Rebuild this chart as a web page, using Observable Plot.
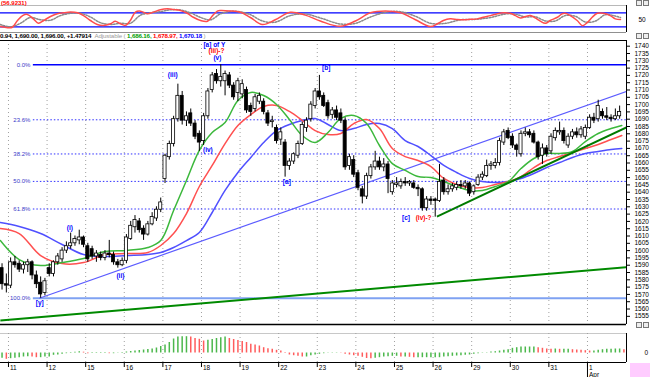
<!DOCTYPE html>
<html><head><meta charset="utf-8">
<script src="https://cdn.jsdelivr.net/npm/d3@7"></script>
<script src="https://cdn.jsdelivr.net/npm/@observablehq/plot@0.6"></script>
<style>
body{margin:0;background:#fff;}
#wrap{position:relative;width:650px;height:377px;overflow:hidden;font-family:"Liberation Sans",Arial,sans-serif;background:#fff;}
.pane{position:absolute;left:0;}
.ico{position:absolute;width:4px;height:4px;border:1px solid #777;background:#eee;}
</style></head><body><div id="wrap"></div>
<script>
// ---------- DATA ----------
const dayLabels = ["11","12","15","16","17","18","19","22","23","24","25","26","29","30","31","1"];
const monthLabel = "Apr";
const monthDay = 15;          // index of the day that starts the new month
const barsPerDay = 9;
const firstBar = -2;
const open  = [1588,1577,1576,1592,1591,1587,1590,1592,1583,1578,1571,1588,1584,1592,1594,1600,1603,1605,1607,1609,1603,1601,1596,1597,1595,1598,1597,1592,1590,1593,1608,1616,1620,1615,1611,1618,1622,1628,1649,1664,1673,1690,1706,1689,1694,1687,1680,1675,1692,1710,1721,1716,1716,1720,1713,1708,1707,1710,1699,1697,1702,1702,1694,1688,1684,1676,1674,1658,1661,1665,1673,1684,1690,1699,1709,1706,1701,1693,1696,1694,1689,1658,1662,1653,1642,1637,1651,1657,1661,1657,1659,1640,1645,1644,1647,1646,1646,1643,1642,1629,1635,1635,1634,1648,1640,1642,1643,1645,1644,1646,1640,1645,1650,1651,1658,1658,1660,1674,1682,1678,1672,1666,1680,1681,1680,1674,1665,1670,1668,1677,1681,1682,1672,1678,1681,1679,1678,1684,1691,1690,1695,1692,1691,1690,1692];
const high  = [1591,1584,1595,1596,1593,1592,1594,1593,1586,1582,1581,1591,1593,1598,1602,1606,1612,1610,1614,1610,1605,1603,1600,1599,1600,1607,1599,1594,1595,1611,1620,1624,1622,1617,1620,1626,1630,1636,1666,1675,1692,1714,1709,1695,1697,1689,1682,1694,1711,1722,1724,1727.3,1723,1722,1715,1718,1717,1712,1701,1707,1708,1704,1696,1692,1686,1684,1676,1663,1667,1675,1688,1691,1702,1711,1720,1708,1703,1698,1699,1697,1691,1666,1665,1655,1644,1653,1659,1668,1664,1663,1661,1648,1650,1649,1650,1648,1648,1645,1643,1637,1637,1636,1659,1650,1645,1646,1647,1648,1648,1647,1645,1652,1654,1662,1661,1663,1677,1683,1684,1680,1673,1682,1684,1683,1682,1675,1673,1672,1680,1684,1688,1684,1680,1683,1684,1685,1686,1693,1694,1703,1697,1698,1693,1697,1699];
const low   = [1573,1571,1574,1588,1585,1584,1585,1580,1574,1567.4,1569,1582,1582,1590,1592,1598,1601,1603,1604,1602,1592,1594,1592,1593,1593,1595,1590,1588,1589,1591,1607,1612,1612,1607,1610,1617,1620,1626,1646,1662,1671,1688,1686,1685,1685,1676,1668,1672,1690,1708,1714,1712,1706,1711,1703,1702,1704,1694,1692,1695,1700,1693,1685,1684,1673,1672,1650.3,1655,1659,1663,1672,1681,1688,1697,1703,1698,1690,1690,1689,1687,1655,1655,1650,1641,1632,1635,1649,1655,1655,1654,1639,1638,1643,1642,1644,1644,1642,1637,1627,1627,1631,1622.9,1633,1638,1638,1640,1641,1642,1642,1637,1638,1644,1648,1650,1655,1656,1658,1672,1676,1670,1664,1664,1678,1677,1673,1662,1659,1664,1666,1675,1679,1673,1670,1676,1677,1677,1676,1683,1687,1688,1690,1689,1688,1689,1690];
const close = [1577,1576,1592,1590,1587,1590,1592,1583,1577,1570,1579,1584,1592,1596,1600,1603,1605,1608,1609,1604,1594,1596,1598,1595,1598,1597,1592,1590,1593,1609,1617,1621,1614,1611,1618,1623,1628,1633,1665,1673,1690,1706,1689,1692,1687,1678,1674,1692,1709,1720,1716,1719,1721,1713,1705,1716,1714,1696,1695,1705,1706,1695,1687,1689,1675,1681,1658,1661,1666,1673,1686,1689,1700,1709,1705,1699,1692,1696,1691,1689,1657,1664,1652,1643,1637,1651,1657,1661,1657,1659,1649,1646,1646,1647,1646,1647,1643,1642,1629,1635,1634,1634,1647,1640,1642,1644,1645,1644,1646,1639,1644,1650,1652,1658,1659,1660,1675,1681,1677,1672,1669,1680,1681,1679,1674,1664,1670,1666,1678,1682,1682,1675,1678,1681,1679,1683,1684,1691,1689,1699,1692,1691,1690,1692,1695];

const maBar   = [-2.4,2,7,12,17,22,27,32,35,38,41,44,47,50,53,56,59,62,65,68,71,74,77,80,83,86,89,92,95,98,101,104,107,110,113,116,119,122,125,128,131,134,137,140,142.5];
const maGreen = [1606.9,1593.9,1589.8,1591.8,1594.6,1599.4,1600.1,1602.1,1606.9,1627.5,1648.0,1668.6,1680.9,1687.7,1702.8,1708.3,1706.2,1700.1,1689.8,1678.8,1674.0,1680.9,1690.5,1692.5,1687.0,1672.0,1659.6,1654.9,1650.7,1650.1,1647.3,1643.9,1641.2,1641.2,1643.9,1647.3,1656.2,1663.1,1666.5,1666.5,1667.9,1674.7,1680.2,1683.6,1685.7];
const maRed   = [1615.1,1611.7,1596.6,1591.1,1591.8,1597.3,1598.0,1598.7,1603.5,1611.7,1625.4,1643.9,1658.3,1673.3,1685.7,1693.2,1698.7,1699.4,1695.3,1689.1,1682.2,1679.5,1680.2,1687.0,1689.8,1683.6,1669.9,1664.4,1661.7,1657.6,1649.4,1645.3,1643.2,1643.2,1645.3,1647.3,1650.7,1656.9,1661.7,1664.4,1667.2,1669.9,1672.7,1676.1,1678.8];
const maBlue  = [1619.2,1616.5,1611.7,1604.2,1597.3,1595.9,1596.6,1597.3,1598.7,1602.1,1606.9,1612.4,1626.1,1641.2,1653.5,1663.8,1674.0,1682.2,1686.4,1689.1,1690.5,1686.4,1682.2,1683.6,1686.4,1687.0,1683.6,1675.4,1671.3,1665.1,1658.3,1653.5,1649.4,1647.3,1646.6,1647.3,1649.4,1652.8,1656.9,1660.3,1663.8,1666.5,1667.9,1669.2,1669.9];

const fibLevels = [1727.3,1689.6,1666.2,1647.4,1628.5,1567.4];
const fibLabels = ["0.0%","23.6%","38.2%","50.0%","61.8%","100.0%"];
const fibStartBar = 5.3;

const trendBlueBar = [6.7,143.6],  trendBluePrice = [1567.4,1709.0];
const trendGreenBar = [99.4,143.6], trendGreenPrice = [1623.3,1684.4];
const baseGreenBar = [-2.4,143.6], baseGreenPrice = [1552.1,1588.7];

const waveText  = ["[a] of Y","(iii)-?","(v)","(iii)","(iv)","[b]","[a]","[c]","(iv)-?","(i)","(ii)","[y]"];
const waveBar   = [47.5,48.0,48.2,37.8,46.0,73.6,64.4,92.2,96.3,13.8,25.6,6.8];
const wavePrice = [1740.8,1736.7,1731.9,1720.3,1668.9,1725.1,1647.0,1622.3,1622.3,1615.5,1582.9,1564.4];
const waveColor = ["#0000ff","#ff0000","#0000ff","#0000ff","#0000ff","#0000ff","#0000ff","#0000ff","#ff0000","#0000ff","#0000ff","#0000ff"];

const oscKBar = [-2.4,-0.7,0.4,1.6,2.8,3.9,5.3,6.5,7.7,9.3,10.9,12.3,14.0,15.6,17.0,18.6,20.2,21.6,23.3,24.4,25.6,26.8,27.9,29.1,30.3,31.9,33.3,34.9,36.6,38.0,39.6,41.2,42.6,44.3,45.9,47.1,48.2,48.9,51.2,53.6,55.9,58.7,61.7,65.2,68.7,72.2,76.9,80.4,83.9,87.4,90.9,94.4,97.9,99.5,100.9,102.5,104.2,105.6,107.2,108.8,110.2,111.9,113.5,114.9,116.5,117.7,118.9,120.0,121.2,122.3,123.5,124.7,125.8,127.5,128.6,129.3,130.5,132.1,133.3,134.5,135.6,136.8,138.2,139.8,141.0,142.2];
const oscK    = [21,16,18,47,68,73,54,35,47,64,76,80,83,80,68,47,30,26,33,44,33,26,47,83,87,76,83,93,97,94,90,78,61,47,44,68,87,90,88,82,60,30,50,82,70,45,22,45,80,88,80,50,21,33,47,54,51,50,52,54,61,68,76,80,78,68,58,64,68,58,44,35,47,61,76,78,68,47,25,39,61,78,78,68,54,51];
const oscDBar = [-2.4,0.0,2.3,4.6,7.0,9.3,11.6,14.0,16.3,18.6,20.9,23.3,25.6,27.9,30.3,32.6,34.9,37.3,39.6,41.9,44.3,46.6,48.9,51.2,53.6,55.9,58.7,61.7,65.2,68.7,72.2,76.9,80.4,83.9,87.4,90.9,94.4,97.9,101.4,104.9,108.4,111.9,115.4,117.7,120.0,122.3,124.7,127.0,129.3,131.7,134.1,136.4,138.7,141.0,142.2];
const oscD    = [30,20,35,60,50,48,68,78,78,62,38,30,35,35,70,80,85,93,92,80,60,50,75,86,84,72,45,40,68,75,58,32,35,62,82,85,65,35,35,50,52,60,75,74,62,63,45,45,68,65,40,45,72,66,60];
const oscLevels = [20,80];
const oscMid = 50;

const histVals = [-5.3,-6.3,-5.7,-5.3,-4.7,-4.0,-3.7,-4.0,-4.7,-4.7,-4.0,-4.0,-2.3,-2.0,-1.3,-0.7,0.5,0.7,1.3,0.8,-0.7,-0.5,-0.5,-0.5,-0.5,-0.7,-0.7,-0.3,0.5,1.0,1.5,2.0,2.5,3.0,3.5,4.0,5.0,6.5,8.0,10.5,14,16,16.3,16.3,16,14.5,13.7,12,12.7,13.5,14.5,15.2,16,14.5,13.5,12.5,11.5,10.5,8.7,8,7,5.3,4.3,3.7,2.7,2,-0.5,-2,-2.7,-3.3,-4,-4,-2.7,-2,-1.3,-0.7,0.3,0.3,0.3,-0.3,-1.3,-2,-2.7,-3.3,-4.3,-5.5,-5.7,-5.3,-4.7,-4,-3.7,-3.3,-3.3,-4,-4,-4.3,-4.7,-4.7,-4.7,-4.7,-4.7,-4.7,-4.7,-4,-3.7,-3.3,-3,-2.7,-2.3,-2,-1.3,-0.7,-0.3,0.3,1,1.3,2,2.7,3.3,4.7,5.3,6,6,6,6,5.3,4.7,4,3.7,4,3.7,3.7,3.7,3.3,3,2.7,2.3,2,2,2.7,3.3,3.7,3.7,4,4,3.3];

const priceTicks = d3.range(1555, 1741, 5);

// ---------- BUILD ----------
const xDomain = [-2.36, 143.6];
const xMax = xDomain[1];
const font = "'Liberation Sans', Arial, sans-serif";
const base = {width: 650, marginLeft: 0, marginRight: 24,
  style: {fontFamily: font, fontSize: "6.5px", background: "transparent", overflow: "visible", color: "#000"},
  color: {type: "identity"}};
const dayStarts = dayLabels.map((_, k) => k * barsPerDay - 0.5);

const bars = open.map((o, k) => ({i: firstBar + k, o, h: high[k], l: low[k], c: close[k]}));
const ma = (vals) => vals.map((p, k) => ({i: maBar[k], p}));
const fibData = fibLevels.map((p, k) => ({p, label: fibLabels[k], x1: fibStartBar, x2: xMax}));
const waves = waveText.map((t, k) => ({t, i: waveBar[k], p: wavePrice[k], col: waveColor[k]}));
const kData = oscK.map((v, k) => ({i: oscKBar[k], v}));
const dData = oscD.map((v, k) => ({i: oscDBar[k], v}));
const hist = histVals.map((v, k) => ({i: firstBar + k, v, col: (k === 0 || v >= histVals[k-1]) ? "#4cb84c" : "#ff5c5c"}));
const seg = (b, p) => [{i1: b[0], p1: p[0], i2: b[1], p2: p[1]}];

const wrap = document.getElementById("wrap");
function place(svg, top) { const d = document.createElement("div"); d.className = "pane"; d.style.top = top + "px"; d.appendChild(svg); wrap.appendChild(d); }

// Top oscillator pane
const yA = [-4.4, 111.3];
const plotA = Plot.plot({...base, height: 33, marginTop: 5, marginBottom: 1,
  x: {domain: xDomain, axis: null}, y: {domain: yA, axis: null},
  marks: [
    Plot.ruleY([yA[1]], {stroke: "#b8b8b8"}),
    Plot.ruleY([yA[0]], {stroke: "#909090"}),
    Plot.ruleY(oscLevels, {stroke: "#0000ff", strokeWidth: 1.2}),
    Plot.line(dData, {x: "i", y: "v", stroke: "#8a8a8a", strokeDasharray: "1.5,1.5", curve: "catmull-rom", clip: true}),
    Plot.line(kData, {x: "i", y: "v", stroke: "#ff4d4d", curve: "catmull-rom", clip: true}),
    Plot.ruleX([xMax], {stroke: "#000"}),
    Plot.text([oscMid], {x: xMax, y: d => d, text: d => String(d), dx: 12, textAnchor: "start", fill: "#000"})
  ]});
place(plotA, 0);

// Main price pane
const yB = [1549.4, 1743.9];
const plotB = Plot.plot({...base, height: 286, marginTop: 1, marginBottom: 1,
  x: {domain: xDomain, axis: null},
  y: {domain: yB, axis: "right", ticks: priceTicks, tickSize: 3, tickPadding: 5, tickFormat: d => String(d), label: null},
  marks: [
    Plot.ruleX(dayStarts, {stroke: "#a0a0a0", strokeDasharray: "1,3"}),
    Plot.ruleY(fibData.slice(0, 1), {y: "p", x1: "x1", x2: "x2", stroke: "#0000ff", strokeWidth: 1.3}),
    Plot.ruleY(fibData.slice(1, 5), {y: "p", x1: "x1", x2: "x2", stroke: "#2f2fff", strokeDasharray: "1.5,2"}),
    Plot.ruleY(fibData.slice(5), {y: "p", x1: "x1", x2: "x2", stroke: "#7fa2f2", strokeWidth: 2}),
    Plot.text(fibData, {x: "x1", y: "p", text: "label", textAnchor: "end", dx: -3, fill: "#3a3ac8", fontSize: 6}),
    Plot.link(seg(baseGreenBar, baseGreenPrice), {x1: "i1", y1: "p1", x2: "i2", y2: "p2", stroke: "#008a00", strokeWidth: 2, clip: true}),
    Plot.link(seg(trendBlueBar, trendBluePrice), {x1: "i1", y1: "p1", x2: "i2", y2: "p2", stroke: "#5c5cff", strokeWidth: 1.2, clip: true}),
    Plot.line(ma(maBlue), {x: "i", y: "p", stroke: "#5050ff", curve: "catmull-rom", clip: true}),
    Plot.line(ma(maRed), {x: "i", y: "p", stroke: "#ff5050", curve: "catmull-rom", clip: true}),
    Plot.line(ma(maGreen), {x: "i", y: "p", stroke: "#3cb83c", curve: "catmull-rom", clip: true}),
    Plot.ruleX(bars, {x: "i", y1: "l", y2: "h", stroke: "#000", clip: true}),
    Plot.rect(bars, {x1: d => d.i - 0.36, x2: d => d.i + 0.36, y1: d => Math.min(d.o, d.c), y2: d => Math.max(d.o, d.c),
      fill: d => d.c >= d.o ? "#ffffff" : "#000000", stroke: "#000", strokeWidth: 0.8, clip: true}),
    Plot.link(seg(trendGreenBar, trendGreenPrice), {x1: "i1", y1: "p1", x2: "i2", y2: "p2", stroke: "#007a00", strokeWidth: 2, clip: true}),
    Plot.text(waves, {x: "i", y: "p", text: "t", fill: "col", fontSize: 6.5, fontWeight: "bold"}),
    Plot.ruleY([yB[1]], {stroke: "#000"}),
    Plot.ruleY([yB[0]], {stroke: "#000", strokeWidth: 1.5}),
    Plot.ruleX([xMax], {stroke: "#000"})
  ]});
place(plotB, 39);

// Bottom histogram pane + time axis
const yC = [-9.5, 19.5];
const plotC = Plot.plot({...base, height: 52, marginTop: 8, marginBottom: 15,
  x: {domain: xDomain, axis: null}, y: {domain: yC, axis: null},
  marks: [
    Plot.ruleY([yC[1]], {stroke: "#c8c8c8"}),
    Plot.ruleX(dayStarts, {stroke: "#a0a0a0", strokeDasharray: "1,3"}),
    Plot.ruleX(hist, {x: "i", y1: 0, y2: "v", stroke: "col", strokeWidth: 1.5, clip: true}),
    Plot.ruleY([yC[0]], {stroke: "#000"}),
    Plot.ruleX(bars, {x: "i", y1: yC[0], y2: yC[0], insetBottom: -2.5, stroke: "#000", clip: true}),
    Plot.ruleX(dayStarts, {y1: yC[0], y2: yC[0], insetBottom: -5, stroke: "#000"}),
    Plot.ruleX([dayStarts[monthDay]], {y1: yC[0], y2: yC[0], insetBottom: -15, stroke: "#000"}),
    Plot.text(dayLabels, {x: (d, k) => dayStarts[k], y: yC[0], dy: 5, dx: 1.5, textAnchor: "start", fill: "#000"}),
    Plot.text([monthLabel], {x: dayStarts[monthDay], y: yC[0], dy: 12, dx: 1.5, textAnchor: "start", fill: "#000"}),
    Plot.ruleX([xMax], {stroke: "#000"}),
    Plot.text(["0"], {x: xMax, y: 0, dx: 18, textAnchor: "start", fill: "#000"})
  ]});
place(plotC, 325);

// Header line and decorations
const hdr = document.createElement("div");
hdr.style.cssText = "position:absolute;top:32px;left:0;white-space:nowrap;font:bold 6.2px " + font + ";letter-spacing:-0.15px;line-height:7px;";
hdr.innerHTML = '<span style="color:#000">0.94, 1,690.00, 1,696.00, +1.47914</span>' +
  '<span style="color:#9a9a9a;font-weight:normal"> &nbsp;Adjustable ( </span>' +
  '<span style="color:#009c00">1,686.16, </span><span style="color:#ff0000">1,678.97, </span>' +
  '<span style="color:#0000ff">1,670.18</span><span style="color:#9a9a9a;font-weight:normal"> )</span>';
wrap.appendChild(hdr);
const ttl = document.createElement("div");
ttl.style.cssText = "position:absolute;top:0;left:1px;white-space:nowrap;font:bold 6px " + font + ";line-height:6px;color:#ff0000;";
ttl.textContent = "(56.9231)";
wrap.appendChild(ttl);
[[636,0],[643,0],[636,33],[643,33],[636,322],[643,322]].forEach(([l,t]) => {
  const b = document.createElement("div"); b.className = "ico"; b.style.left = l + "px"; b.style.top = t + "px"; wrap.appendChild(b);
});
const pink = document.createElement("div");
pink.style.cssText = "position:absolute;left:630px;top:363px;width:20px;height:14px;background:#ffccff;";
wrap.appendChild(pink);
</script></body></html>
